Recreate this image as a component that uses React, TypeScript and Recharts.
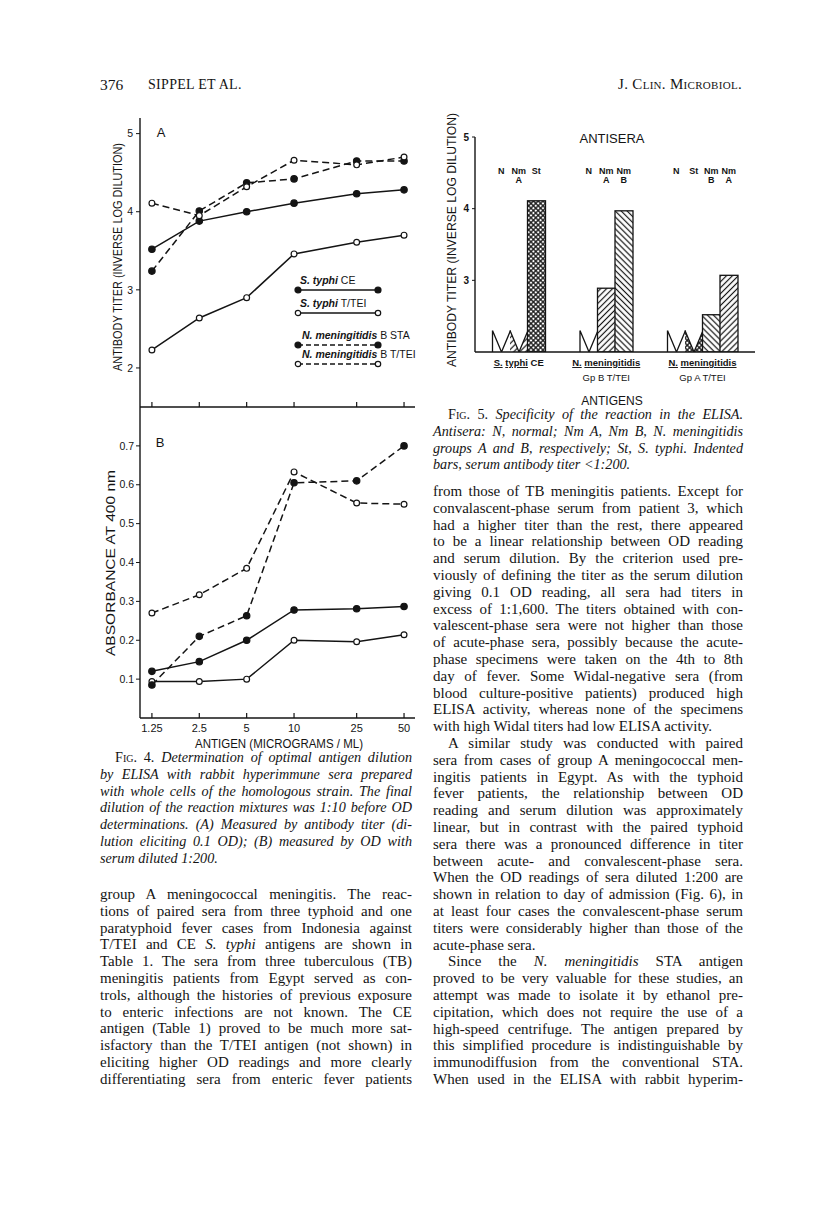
import React, { useLayoutEffect, useRef, useState } from "react";
import { LineChart, Line, XAxis, YAxis, BarChart, Bar, Legend } from "recharts";

const INK = "#141414";
const SANS = "'Liberation Sans', Arial, sans-serif";
const SERIF = "'Liberation Serif', 'Times New Roman', serif";

// Fig. 4 — antigen concentration (micrograms/ml), log axis
const ANTIGEN_UG = [1.25, 2.5, 5, 10, 25, 50];
const ANTIGEN_TICK_LABELS = ["1.25", "2.5", "5", "10", "25", "50"];

// (A) antibody titer, inverse log dilution
const TITER_TYPHI_CE = [3.52, 3.88, 4.0, 4.11, 4.23, 4.28];
const TITER_TYPHI_TEI = [2.23, 2.64, 2.9, 3.46, 3.61, 3.7];
const TITER_NM_STA = [3.24, 4.01, 4.37, 4.42, 4.65, 4.65];
const TITER_NM_TEI = [4.11, 3.95, 4.32, 4.66, 4.6, 4.7];
const TITER_TICKS = [2, 3, 4, 5];

// (B) absorbance at 400 nm, serum 1:200
const OD_TYPHI_CE = [0.12, 0.145, 0.2, 0.278, 0.281, 0.287];
const OD_TYPHI_TEI = [0.094, 0.094, 0.1, 0.2, 0.196, 0.214];
const OD_NM_STA = [0.085, 0.21, 0.263, 0.605, 0.61, 0.7];
const OD_NM_TEI = [0.27, 0.317, 0.385, 0.633, 0.553, 0.55];
const OD_TICKS = [0.1, 0.2, 0.3, 0.4, 0.5, 0.6, 0.7];

const SERIES_NAMES = ["S. typhi CE", "S. typhi T/TEI", "N. meningitidis B STA", "N. meningitidis B T/TEI"];

// Fig. 5 — specificity
const FIG5_ANTIGEN_LINE1 = ["S. typhi CE", "N. meningitidis", "N. meningitidis"];
const FIG5_ANTIGEN_LINE2 = ["", "Gp B T/TEI", "Gp A T/TEI"];
const FIG5_ANTISERA = [["N", "Nm A", "St"], ["N", "Nm A", "Nm B"], ["N", "St", "Nm B", "Nm A"]];
const FIG5_TITERS = [[2.3, 2.3, 4.11], [2.3, 2.89, 3.97], [2.3, 2.3, 2.52, 3.07]];
const FIG5_BELOW_LIMIT = [[true, true, false], [true, false, false], [true, true, false, false]];
const FIG5_TICKS = [3, 4, 5];

const SERIES = [
  { key: "ce", dashed: false, filled: true },
  { key: "tei", dashed: false, filled: false },
  { key: "sta", dashed: true, filled: true },
  { key: "nmtei", dashed: true, filled: false },
];

const fig4A = ANTIGEN_UG.map((c, i) => ({
  c, ce: TITER_TYPHI_CE[i], tei: TITER_TYPHI_TEI[i], sta: TITER_NM_STA[i], nmtei: TITER_NM_TEI[i],
}));
const fig4B = ANTIGEN_UG.map((c, i) => ({
  c, ce: OD_TYPHI_CE[i], tei: OD_TYPHI_TEI[i], sta: OD_NM_STA[i], nmtei: OD_NM_TEI[i],
}));

type Slot = { titer: number | null; serum: string; below: boolean; group: number; pos: number };
const fig5Slots: Slot[] = [];
const blank = () => fig5Slots.push({ titer: null, serum: "", below: false, group: -1, pos: -1 });
blank();
FIG5_ANTISERA.forEach((sera, g) => {
  if (g > 0) { blank(); blank(); }
  sera.forEach((s, j) =>
    fig5Slots.push({ titer: FIG5_TITERS[g][j], serum: s, below: FIG5_BELOW_LIMIT[g][j], group: g, pos: j })
  );
});
blank();

const FIG5_PLOT_W = 280;
const SERUM_FILL: Record<string, string> = {
  N: "#fff", "Nm A": "url(#hatchUp)", "Nm B": "url(#hatchDown)", St: "url(#crossHatch)",
};

// ---------- text of the page ----------
const HEADER_LEFT = "SIPPEL ET AL.";
const HEADER_RIGHT = "J. Clin. Microbiol.";

const FIG4_CAPTION = [
  ">~Fig.~ 4. _Determination of optimal antigen dilution_",
  "_by ELISA with rabbit hyperimmune sera prepared_",
  "_with whole cells of the homologous strain. The final_",
  "_dilution of the reaction mixtures was 1:10 before OD_",
  "_determinations. (A) Measured by antibody titer (di-_",
  "_lution eliciting 0.1 OD); (B) measured by OD with_",
  "_serum diluted 1:200._¶",
];

const FIG5_CAPTION = [
  ">~Fig.~ 5. _Specificity of the reaction in the ELISA._",
  "_Antisera: N, normal; Nm A, Nm B, N. meningitidis_",
  "_groups A and B, respectively; St, S. typhi. Indented_",
  "_bars, serum antibody titer <1:200._¶",
];

const LEFT_BODY = [
  "group A meningococcal meningitis. The reac-",
  "tions of paired sera from three typhoid and one",
  "paratyphoid fever cases from Indonesia against",
  "T/TEI and CE _S. typhi_ antigens are shown in",
  "Table 1. The sera from three tuberculous (TB)",
  "meningitis patients from Egypt served as con-",
  "trols, although the histories of previous exposure",
  "to enteric infections are not known. The CE",
  "antigen (Table 1) proved to be much more sat-",
  "isfactory than the T/TEI antigen (not shown) in",
  "eliciting higher OD readings and more clearly",
  "differentiating sera from enteric fever patients",
];

const RIGHT_BODY = [
  "from those of TB meningitis patients. Except for",
  "convalascent-phase serum from patient 3, which",
  "had a higher titer than the rest, there appeared",
  "to be a linear relationship between OD reading",
  "and serum dilution. By the criterion used pre-",
  "viously of defining the titer as the serum dilution",
  "giving 0.1 OD reading, all sera had titers in",
  "excess of 1:1,600. The titers obtained with con-",
  "valescent-phase sera were not higher than those",
  "of acute-phase sera, possibly because the acute-",
  "phase specimens were taken on the 4th to 8th",
  "day of fever. Some Widal-negative sera (from",
  "blood culture-positive patients) produced high",
  "ELISA activity, whereas none of the specimens",
  "with high Widal titers had low ELISA activity.¶",
  ">A similar study was conducted with paired",
  "sera from cases of group A meningococcal men-",
  "ingitis patients in Egypt. As with the typhoid",
  "fever patients, the relationship between OD",
  "reading and serum dilution was approximately",
  "linear, but in contrast with the paired typhoid",
  "sera there was a pronounced difference in titer",
  "between acute- and convalescent-phase sera.",
  "When the OD readings of sera diluted 1:200 are",
  "shown in relation to day of admission (Fig. 6), in",
  "at least four cases the convalescent-phase serum",
  "titers were considerably higher than those of the",
  "acute-phase sera.¶",
  ">Since the _N. meningitidis_ STA antigen",
  "proved to be very valuable for these studies, an",
  "attempt was made to isolate it by ethanol pre-",
  "cipitation, which does not require the use of a",
  "high-speed centrifuge. The antigen prepared by",
  "this simplified procedure is indistinguishable by",
  "immunodiffusion from the conventional STA.",
  "When used in the ELISA with rabbit hyperim-",
];

function renderMarkup(s: string) {
  const out: React.ReactNode[] = [];
  let italic = false;
  let caps = false;
  let buf = "";
  const flush = () => {
    if (!buf) return;
    out.push(
      <span key={out.length} style={{ fontStyle: italic ? "italic" : "normal", fontVariant: caps ? "small-caps" : "normal" }}>
        {buf}
      </span>
    );
    buf = "";
  };
  for (const ch of s) {
    if (ch === "_") { flush(); italic = !italic; }
    else if (ch === "~") { flush(); caps = !caps; }
    else buf += ch;
  }
  flush();
  return out;
}

// one justified line; squeezes letter spacing if the line is wider than the column
function TextLine({ text, left, top, width, last, size }: { text: string; left: number; top: number; width: number; last: boolean; size: number }) {
  const ref = useRef<HTMLDivElement>(null);
  const [ls, setLs] = useState(0);
  useLayoutEffect(() => {
    const el = ref.current;
    if (!el) return;
    const over = el.scrollWidth - width;
    if (over > 0.5) setLs(-(over + 1) / text.replace(/[_~]/g, "").length);
  }, [text, width]);
  return (
    <div
      ref={ref}
      style={{
        position: "absolute",
        left,
        top,
        width,
        fontSize: size,
        lineHeight: "17px",
        whiteSpace: "nowrap",
        letterSpacing: ls,
        textAlign: last ? "left" : "justify",
        textAlignLast: last ? "left" : "justify",
      } as React.CSSProperties}
    >
      {renderMarkup(text)}
    </div>
  );
}

function TextColumn({ lines, x, y0, w, size = 15, step = 16.8 }: { lines: string[]; x: number; y0: number; w: number; size?: number; step?: number }) {
  return (
    <>
      {lines.map((raw, i) => {
        let t = raw;
        const indent = t.startsWith(">") ? 15 : 0;
        if (indent) t = t.slice(1);
        const last = t.endsWith("¶");
        if (last) t = t.slice(0, -1);
        return (
          <TextLine key={i} text={t} left={x + indent} top={y0 + i * step - 10} width={w - indent} last={last} size={size} />
        );
      })}
    </>
  );
}

// ---------- Fig. 4 pieces ----------
const makeDot = (filled: boolean) => (p: any) => (
  <circle
    key={`d${p.index}`}
    cx={p.cx}
    cy={p.cy}
    r={filled ? 3.2 : 2.9}
    fill={filled ? INK : "#fff"}
    stroke={INK}
    strokeWidth={1.2}
  />
);

const UpTick = (p: any) => {
  const { x, y, payload, showLabel } = p;
  const i = ANTIGEN_UG.indexOf(payload.value);
  return (
    <g>
      <line x1={x} x2={x} y1={y} y2={y - 5} stroke={INK} strokeWidth={1.2} />
      {showLabel && (
        <text x={x} y={y + 14} textAnchor="middle" fontSize={11} fontFamily={SANS} fill={INK}>
          {ANTIGEN_TICK_LABELS[i]}
        </text>
      )}
    </g>
  );
};

const ItalicName = ({ name }: { name: string }) => {
  const words = name.split(" ");
  return (
    <>
      <tspan fontStyle="italic" fontWeight={700}>{words.slice(0, 2).join(" ")}</tspan>
      <tspan>{" " + words.slice(2).join(" ")}</tspan>
    </>
  );
};

const LEGEND_TEXT_Y = [18, 41, 73, 92];
const LEGEND_LINE_Y = [24, 47, 79, 98];

const Fig4Legend = () => (
  <svg width={135} height={104} style={{ overflow: "visible" }}>
    {SERIES.map((s, i) => (
      <g key={s.key}>
        <text x={i < 2 ? 5 : 7} y={LEGEND_TEXT_Y[i]} fontSize={10.5} fontFamily={SANS} fill={INK}>
          <ItalicName name={SERIES_NAMES[i]} />
        </text>
        <line x1={3} x2={83} y1={LEGEND_LINE_Y[i]} y2={LEGEND_LINE_Y[i]} stroke={INK} strokeWidth={1.5}
          strokeDasharray={s.dashed ? "5 3" : undefined} />
        {[3, 83].map((cx) => (
          <circle key={cx} cx={cx} cy={LEGEND_LINE_Y[i]} r={s.filled ? 3 : 2.7}
            fill={s.filled ? INK : "#fff"} stroke={INK} strokeWidth={1.2} />
        ))}
      </g>
    ))}
  </svg>
);

const axisLine = { stroke: INK, strokeWidth: 1.4 };
const yTick = { fontSize: 10.5, fill: INK, fontFamily: SANS };

function Fig4() {
  const lines = SERIES.map((s) => (
    <Line
      key={s.key}
      type="linear"
      dataKey={s.key}
      stroke={INK}
      strokeWidth={1.5}
      strokeDasharray={s.dashed ? "7 4" : undefined}
      dot={makeDot(s.filled)}
      isAnimationActive={false}
      legendType="none"
    />
  ));
  const xProps = {
    type: "number" as const,
    dataKey: "c",
    scale: "log" as const,
    domain: [1.05, 58.7],
    ticks: ANTIGEN_UG,
    allowDataOverflow: true,
    tickLine: false,
    tickSize: 0,
    tickMargin: 0,
    axisLine,
    interval: 0 as const,
  };
  return (
    <>
      <div style={{ position: "absolute", left: 100, top: 100 }}>
        <LineChart width={320} height={310} data={fig4A} margin={{ top: 18, right: 5, left: 0, bottom: 2 }}>
          <XAxis {...xProps} height={1} tick={(p: any) => <UpTick {...p} showLabel={false} />} />
          <YAxis type="number" domain={[1.5, 5.2]} ticks={TITER_TICKS} width={40} tickSize={4} tickMargin={3}
            tick={yTick} axisLine={axisLine} tickLine={{ stroke: INK }} allowDataOverflow />
          {lines}
          <Legend layout="horizontal" verticalAlign="middle" align="center"
            wrapperStyle={{ left: 195, top: 166, width: 135, height: 104 }} content={() => <Fig4Legend />} />
        </LineChart>
      </div>
      <div style={{ position: "absolute", left: 100, top: 400 }}>
        <LineChart width={320} height={360} data={fig4B} margin={{ top: 7, right: 5, left: 0, bottom: 0 }}>
          <XAxis {...xProps} height={42} tick={(p: any) => <UpTick {...p} showLabel />} />
          <YAxis type="number" domain={[0, 0.8]} ticks={OD_TICKS} width={40} tickSize={4} tickMargin={2}
            tick={yTick} axisLine={axisLine} tickLine={{ stroke: INK }} tickFormatter={(v: number) => v.toFixed(1)}
            allowDataOverflow />
          {lines}
        </LineChart>
      </div>
    </>
  );
}

// ---------- Fig. 5 pieces ----------
const Fig5Bar = (p: any) => {
  const { x, y, width, height, payload } = p;
  if (payload == null || payload.titer == null) return null;
  const base = y + height;
  const fill = SERUM_FILL[payload.serum];
  if (payload.below) {
    const mid = x + width / 2;
    const r = x + width;
    return (
      <g>
        <polygon points={`${x},${base} ${x},${y} ${mid},${base} ${r},${y} ${r},${base}`} fill={fill} stroke="none" />
        <path
          d={`M${x},${y} L${mid},${base} L${r},${y}` + (payload.pos === 0 ? ` M${x},${base} L${x},${y}` : "")}
          fill="none" stroke={INK} strokeWidth={1.3} strokeLinejoin="miter"
        />
      </g>
    );
  }
  return <rect x={x} y={y} width={width} height={height} fill={fill} stroke={INK} strokeWidth={1.3} />;
};

const Fig5Tick = (p: any) => {
  const { x, y, index } = p;
  const slot = fig5Slots[index];
  if (!slot || slot.titer == null) return <g />;
  const [abbr, letter] = slot.serum.split(" ");
  const band = FIG5_PLOT_W / fig5Slots.length;
  const n = FIG5_ANTISERA[slot.group].length;
  const gx = x + ((n - 1) / 2) * band;
  const l1 = FIG5_ANTIGEN_LINE1[slot.group].split(" ");
  return (
    <g fontFamily={SANS} fill={INK} fontWeight={700}>
      <text x={x} y={y - 178} textAnchor="middle" fontSize={9}>{abbr}</text>
      {letter && <text x={x} y={y - 169} textAnchor="middle" fontSize={9}>{letter}</text>}
      {slot.pos === 0 && (
        <>
          <text x={gx} y={y + 14} textAnchor="middle" fontSize={9.5}>
            <tspan style={{ textDecoration: "underline" }}>{l1[0]}</tspan>
            <tspan> </tspan>
            <tspan style={{ textDecoration: "underline" }}>{l1[1]}</tspan>
            {l1.length > 2 && <tspan>{" " + l1.slice(2).join(" ")}</tspan>}
          </text>
          {FIG5_ANTIGEN_LINE2[slot.group] && (
            <text x={gx} y={y + 29} textAnchor="middle" fontSize={9.5} fontWeight={400}>
              {FIG5_ANTIGEN_LINE2[slot.group]}
            </text>
          )}
        </>
      )}
    </g>
  );
};

function Fig5() {
  return (
    <div style={{ position: "absolute", left: 430, top: 100 }}>
      <BarChart width={330} height={300} data={fig5Slots} margin={{ top: 37, right: 5, left: 0, bottom: 0 }}
        barCategoryGap={0} barGap={0}>
        <XAxis interval={0} tickLine={false} tickSize={0} tickMargin={0} height={48} axisLine={axisLine}
          tick={(p: any) => <Fig5Tick {...p} />} />
        <YAxis type="number" domain={[2, 5]} ticks={FIG5_TICKS} width={45} tickSize={3} tickMargin={3}
          tick={{ fontSize: 10, fill: INK, fontFamily: SANS, fontWeight: 700 }} axisLine={axisLine}
          tickLine={{ stroke: INK }} allowDataOverflow />
        <Bar dataKey="titer" shape={(p: any) => <Fig5Bar {...p} />} isAnimationActive={false} />
      </BarChart>
    </div>
  );
}

function Overlay() {
  const t = { fontFamily: SANS, fill: INK };
  return (
    <svg width={816} height={800} style={{ position: "absolute", left: 0, top: 0, pointerEvents: "none" }}>
      <text {...t} transform="translate(118,257) rotate(-90)" textAnchor="middle" dominantBaseline="central"
        fontSize={12} textLength={228} lengthAdjust="spacingAndGlyphs">ANTIBODY TITER (INVERSE LOG DILUTION)</text>
      <text {...t} transform="translate(111,563) rotate(-90)" textAnchor="middle" dominantBaseline="central"
        fontSize={12} textLength={186} lengthAdjust="spacingAndGlyphs">ABSORBANCE AT 400 nm</text>
      <text {...t} x={161} y={137} textAnchor="middle" fontSize={13}>A</text>
      <text {...t} x={160} y={447} textAnchor="middle" fontSize={13}>B</text>
      <text {...t} x={279} y={748} textAnchor="middle" fontSize={12.5} textLength={168}
        lengthAdjust="spacingAndGlyphs">ANTIGEN (MICROGRAMS / ML)</text>
      <text {...t} transform="translate(452,240) rotate(-90)" textAnchor="middle" dominantBaseline="central"
        fontSize={12.5} textLength={254} lengthAdjust="spacingAndGlyphs">ANTIBODY TITER (INVERSE LOG DILUTION)</text>
      <text {...t} x={612} y={143} textAnchor="middle" fontSize={13}>ANTISERA</text>
      <text {...t} x={612} y={405} textAnchor="middle" fontSize={12}>ANTIGENS</text>
    </svg>
  );
}

function PatternDefs() {
  return (
    <svg width={0} height={0} style={{ position: "absolute" }}>
      <defs>
        <pattern id="hatchUp" width={4.2} height={4.2} patternUnits="userSpaceOnUse" patternTransform="rotate(45)">
          <rect width={4.2} height={4.2} fill="#fff" />
          <line x1={2.1} y1={0} x2={2.1} y2={4.2} stroke={INK} strokeWidth={1.2} />
        </pattern>
        <pattern id="hatchDown" width={4.2} height={4.2} patternUnits="userSpaceOnUse" patternTransform="rotate(-45)">
          <rect width={4.2} height={4.2} fill="#fff" />
          <line x1={2.1} y1={0} x2={2.1} y2={4.2} stroke={INK} strokeWidth={1.2} />
        </pattern>
        <pattern id="crossHatch" width={3.4} height={3.4} patternUnits="userSpaceOnUse" patternTransform="rotate(45)">
          <rect width={3.4} height={3.4} fill="#fff" />
          <line x1={1.7} y1={0} x2={1.7} y2={3.4} stroke={INK} strokeWidth={1.3} />
          <line x1={0} y1={1.7} x2={3.4} y2={1.7} stroke={INK} strokeWidth={1.3} />
        </pattern>
      </defs>
    </svg>
  );
}

export default function App() {
  return (
    <div style={{ position: "absolute", left: 0, top: 0, width: 816, height: 1210, background: "#fff",
      overflow: "hidden", fontFamily: SERIF, color: INK }}>
      <PatternDefs />
      <div style={{ position: "absolute", left: 100, top: 76, fontSize: 15.5 }}>376</div>
      <div style={{ position: "absolute", left: 148, top: 77, fontSize: 14, letterSpacing: 0.3 }}>{HEADER_LEFT}</div>
      <div style={{ position: "absolute", right: 74, top: 76, fontSize: 15, fontVariant: "small-caps", letterSpacing: 0.3 }}>
        {HEADER_RIGHT}
      </div>
      <Fig4 />
      <Fig5 />
      <Overlay />
      <TextColumn lines={FIG5_CAPTION} x={433} y0={416} w={310} size={14.2} />
      <TextColumn lines={RIGHT_BODY} x={433} y0={493} w={310} />
      <TextColumn lines={FIG4_CAPTION} x={100} y0={759} w={312} size={14.2} />
      <TextColumn lines={LEFT_BODY} x={100} y0={896} w={312} />
    </div>
  );
}
